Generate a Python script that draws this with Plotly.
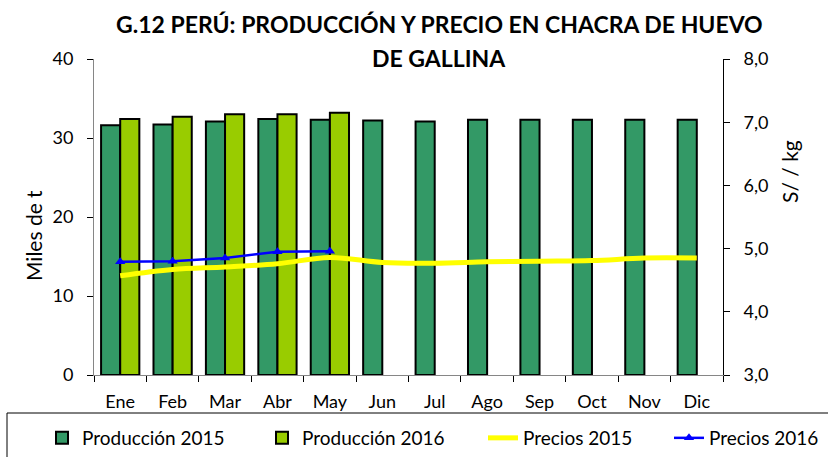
import plotly.graph_objects as go

meses = ["Ene", "Feb", "Mar", "Abr", "May", "Jun", "Jul", "Ago", "Sep", "Oct", "Nov", "Dic"]
prod_2015 = [31.6, 31.7, 32.1, 32.4, 32.3, 32.2, 32.1, 32.3, 32.3, 32.3, 32.3, 32.3]
prod_2016 = [32.4, 32.7, 33.0, 33.0, 33.2, None, None, None, None, None, None, None]
precio_2015 = [4.57, 4.67, 4.71, 4.76, 4.86, 4.78, 4.77, 4.79, 4.80, 4.81, 4.85, 4.85]
precio_2016 = [4.79, 4.80, 4.85, 4.95, 4.96, None, None, None, None, None, None, None]

FONT = "Lato, Open Sans, sans-serif"

PL, PR, PT, PB = 94, 723, 59, 375
pw, ph = PR - PL, PB - PT

def px_x(x):
    return (x - PL) / pw

def px_y(y):
    return (PB - y) / ph

fig = go.Figure()
fig.add_trace(go.Bar(x=meses, y=prod_2015, name="Producción 2015", legend="legend",
                     marker=dict(color="#339966", line=dict(color="#000000", width=2))))
fig.add_trace(go.Bar(x=meses, y=prod_2016, name="Producción 2016", legend="legend2",
                     marker=dict(color="#99CC00", line=dict(color="#000000", width=2))))
fig.add_trace(go.Scatter(x=meses, y=precio_2015, name="Precios 2015", yaxis="y2", legend="legend3",
                         mode="lines", line=dict(color="#FFFF00", width=5, shape="spline")))
fig.add_trace(go.Scatter(x=meses, y=precio_2016, name="Precios 2016", yaxis="y2", legend="legend4",
                         mode="lines+markers", line=dict(color="#0000FF", width=2.5),
                         marker=dict(symbol="triangle-up", size=9, color="#0000FF")))

def leg(xpx):
    return dict(orientation="h", xref="paper", yref="paper",
                x=px_x(xpx), xanchor="left", y=px_y(438), yanchor="middle",
                borderwidth=0, bgcolor="rgba(0,0,0,0)",
                font=dict(family=FONT, size=19, color="#000000"), itemwidth=30)

fig.update_layout(
    width=828, height=457,
    paper_bgcolor="white", plot_bgcolor="white",
    margin=dict(l=PL, r=828 - PR, t=PT, b=457 - PB, autoexpand=False),
    separators=", ",
    font=dict(family=FONT, size=18, color="#000000"),
    barmode="group", bargap=0.27, bargroupgap=0.0,
    xaxis=dict(range=[-0.5, 11.5], showline=True, linecolor="#868686", linewidth=1,
               ticks="outside", tickson="boundaries", ticklen=6, tickcolor="#000000",
               ticklabelstandoff=10, showgrid=False),
    yaxis=dict(range=[0, 40], dtick=10, showline=True, linecolor="#868686", linewidth=1,
               ticks="outside", ticklen=6, tickcolor="#000000", ticklabelstandoff=10,
               showgrid=False, zeroline=False),
    yaxis2=dict(range=[3, 8], dtick=1, tickformat=".1f", overlaying="y", side="right",
                showline=True, linecolor="#000000", linewidth=1,
                ticks="outside", ticklen=6, tickcolor="#000000", ticklabelstandoff=10,
                showgrid=False, zeroline=False),
    legend=leg(42), legend2=leg(262), legend3=leg(483), legend4=leg(669),
    showlegend=True,
    shapes=[dict(type="rect", xref="paper", yref="paper",
                 x0=px_x(7), x1=px_x(840), y0=px_y(413), y1=px_y(470),
                 line=dict(color="#000000", width=1), fillcolor="rgba(0,0,0,0)", layer="below")],
    annotations=[
        dict(text="<b>G.12 PERÚ: PRODUCCIÓN Y PRECIO EN CHACRA DE HUEVO</b>",
             xref="paper", yref="paper", x=px_x(439), y=px_y(24),
             xanchor="center", yanchor="middle", showarrow=False,
             font=dict(family=FONT, size=23)),
        dict(text="<b>DE GALLINA</b>",
             xref="paper", yref="paper", x=px_x(439), y=px_y(58),
             xanchor="center", yanchor="middle", showarrow=False,
             font=dict(family=FONT, size=23)),
        dict(text="Miles de t", xref="paper", yref="paper", x=px_x(33), y=px_y(236),
             xanchor="center", yanchor="middle", textangle=-90, showarrow=False,
             font=dict(family=FONT, size=21)),
        dict(text="S/ / kg", xref="paper", yref="paper", x=px_x(789), y=px_y(172),
             xanchor="center", yanchor="middle", textangle=-90, showarrow=False,
             font=dict(family=FONT, size=21)),
    ],
)

fig.write_html("out.html", config={"displayModeBar": False},
               post_script="document.body.style.margin='0';document.body.style.overflow='hidden';")
